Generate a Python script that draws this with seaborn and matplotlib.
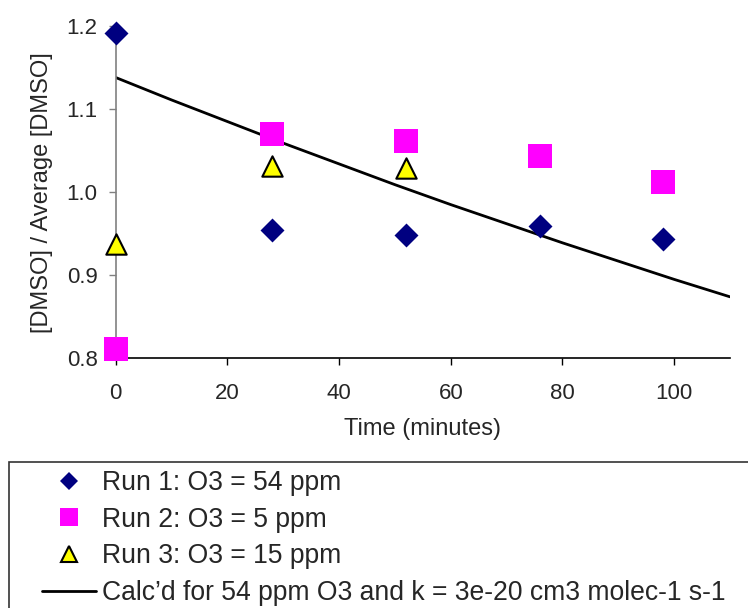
import matplotlib
matplotlib.use("Agg")
import matplotlib.pyplot as plt
import seaborn as sns
from matplotlib.lines import Line2D
from matplotlib.patches import Rectangle

# ---- data ----
time_run1 = [0, 28, 52, 76, 98]
ratio_run1 = [1.191, 0.954, 0.949, 0.959, 0.944]

time_run2 = [0, 28, 52, 76, 98]
ratio_run2 = [0.811, 1.070, 1.062, 1.043, 1.012]

time_run3 = [0, 28, 52]
ratio_run3 = [0.938, 1.031, 1.029]

time_calc = [0, 10, 20, 30, 40, 50, 60, 70, 80, 90, 100, 110]
ratio_calc = [1.138, 1.111, 1.085, 1.059, 1.034, 1.009, 0.985, 0.962,
              0.939, 0.917, 0.895, 0.874]

series_labels = ["Run 1: O3 = 54 ppm", "Run 2: O3 = 5 ppm", "Run 3: O3 = 15 ppm",
                 "Calc\u2019d for 54 ppm O3 and k = 3e-20 cm3 molec-1 s-1"]
x_ticks = [0, 20, 40, 60, 80, 100]
y_ticks = [0.8, 0.9, 1.0, 1.1, 1.2]
y_tick_labels = ["0.8", "0.9", "1.0", "1.1", "1.2"]

sns.set_style("white")
plt.rcParams['font.family'] = ['Liberation Sans', 'DejaVu Sans']

fig = plt.figure(figsize=(7.48, 6.08), dpi=100)
ax = fig.add_axes([115.7 / 748, 1 - 358.3 / 608, (730 - 115.7) / 748, (358.3 - 26) / 608])

sns.lineplot(x=time_calc, y=ratio_calc, ax=ax, color="black", linewidth=2.0,
             sort=False, zorder=2)
sns.scatterplot(x=time_run1, y=ratio_run1, ax=ax, marker="D", s=149,
                color="#000080", linewidth=0, clip_on=False, zorder=4)
sns.scatterplot(x=time_run2, y=ratio_run2, ax=ax, marker="s", s=282,
                color="#FF00FF", linewidth=0, clip_on=False, zorder=4)
sns.scatterplot(x=time_run3, y=ratio_run3, ax=ax, marker="^", s=215,
                color="#FFFF00", edgecolor="black", linewidth=1.5,
                clip_on=False, zorder=4)

ax.set_xlim(0, 110)
ax.set_ylim(0.8, 1.2)
ax.set_xticks(x_ticks)
ax.set_yticks(y_ticks)
ax.set_yticklabels(y_tick_labels)
ax.tick_params(axis="x", direction="out", length=5, width=1, color="black",
               labelsize=16, pad=13, bottom=True)
ax.tick_params(axis="y", direction="out", length=5, width=1, color="#808080",
               labelsize=16, pad=8, left=True)

for side in ("top", "right"):
    ax.spines[side].set_visible(False)
ax.spines["left"].set_color("#808080")
ax.spines["left"].set_linewidth(1.2)
ax.spines["bottom"].set_color("black")
ax.spines["bottom"].set_linewidth(1.2)

ax.set_xlabel("Time (minutes)", fontsize=17)
ax.set_ylabel("[DMSO] / Average [DMSO]", fontsize=17)
ax.xaxis.set_label_coords(0.5, (358.3 - 418) / (358.3 - 26))
ax.yaxis.set_label_coords((53 - 115.7) / (730 - 115.7), 0.5)

handles = [
    Line2D([], [], linestyle="none", marker="D", markersize=9.5,
           markerfacecolor="#000080", markeredgewidth=0),
    Line2D([], [], linestyle="none", marker="s", markersize=13,
           markerfacecolor="#FF00FF", markeredgewidth=0),
    Line2D([], [], linestyle="none", marker="^", markersize=11.5,
           markerfacecolor="#FFFF00", markeredgecolor="black", markeredgewidth=1.5),
    Line2D([], [], color="black", linewidth=2.0),
]
fig.legend(handles, series_labels, loc="upper left",
           bbox_to_anchor=(42 / 748, 1 - 470 / 608), frameon=False,
           fontsize=19.1, handlelength=2.05, handletextpad=0.22,
           labelspacing=0.4, borderpad=0, borderaxespad=0)

fig.patches.append(Rectangle((9 / 748, -0.2), 1.2, 0.2 + 1 - 461.7 / 608,
                             transform=fig.transFigure, fill=False,
                             edgecolor="#333333", linewidth=1.2))

fig.savefig("out.png", dpi=100)
